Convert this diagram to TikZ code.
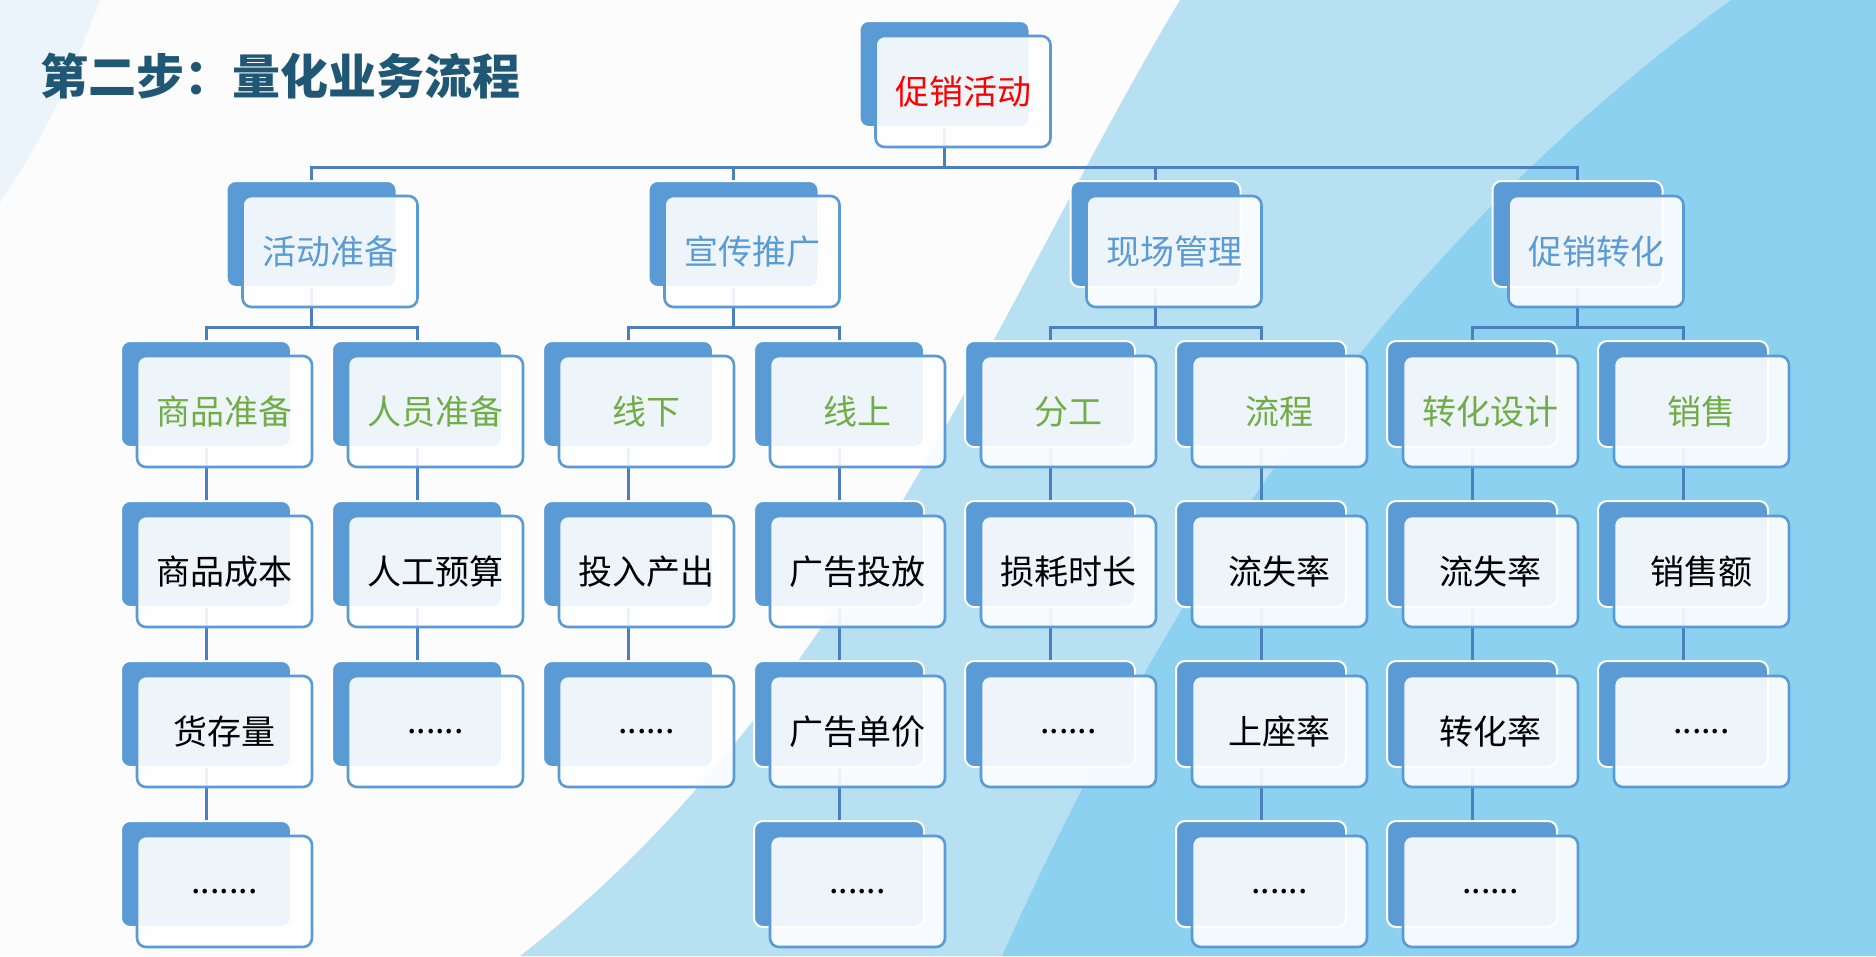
\documentclass[tikz,border=0pt]{standalone}
\usepackage{fontspec}
\newfontfamily\cjk{Noto Sans CJK SC}
\usetikzlibrary{calc}
\definecolor{bgc}{HTML}{FCFCFC}
\definecolor{palec}{HTML}{EBF4FB}
\definecolor{lightb}{HTML}{B7E0F3}
\definecolor{darkb}{HTML}{8DD1F0}
\definecolor{boxblue}{HTML}{5B9BD5}
\definecolor{connc}{HTML}{4A80BD}
\definecolor{titlec}{HTML}{1F5775}
\definecolor{greenc}{HTML}{70AD47}
\definecolor{redc}{HTML}{FF0000}
\pgfdeclarelayer{bglayer}
\pgfdeclarelayer{connlayer}
\pgfsetlayers{bglayer,connlayer,main}
\newcommand\PairBox[5]{%
  \node[backbox] (#1b) at (#2,{21+160*#3+53}) {};
  \node[frontbox,#4] (#1) at ({#2+18.5},{21+160*#3+70.5}) {#5};}
\begin{document}
\begin{tikzpicture}[x=1bp,y=-1bp,
  backbox/.style={rectangle,rounded corners=9bp,fill=boxblue,draw=white,line width=2bp,
    minimum width=170bp,minimum height=106bp,inner sep=0pt},
  frontbox/.style={rectangle,rounded corners=9bp,fill=white,fill opacity=0.9,text opacity=1,
    draw=boxblue,draw opacity=1,line width=2.6bp,minimum width=175bp,minimum height=111bp,
    inner sep=0pt,font=\cjk\fontsize{34bp}{40bp}\selectfont},
  lvred/.style={text=redc},
  lvblue/.style={text=boxblue},
  lvgreen/.style={text=greenc},
  lvblack/.style={text=black},
  conn/.style={draw=connc,line width=3bp}]
\useasboundingbox (0,0) rectangle (1876,956);
\begin{pgfonlayer}{bglayer}
\fill[bgc] (0,0) rectangle (1876,956);
\fill[palec] plot[smooth] coordinates {(100,0) (67,83) (33,150) (0,203)} -- (0,0) -- cycle;
\fill[lightb] (1180,0) .. controls (1000,300) and (850,700) .. (520,956) -- (1876,956) -- (1876,0) -- cycle;
\fill[darkb] (1731,0) .. controls (1400,240) and (1180,560) .. (1002,956) -- (1876,956) -- (1876,0) -- cycle;
\end{pgfonlayer}

\node[anchor=west,inner sep=0pt,text=titlec,font=\cjk\bfseries\fontsize{48bp}{56bp}\selectfont] (title) at (40,76) {第二步：量化业务流程};

% level 0
\PairBox{root}{944.5}{0}{lvred}{促销活动}
% level 1
\PairBox{A}{311.5}{1}{lvblue}{活动准备}
\PairBox{B}{733.5}{1}{lvblue}{宣传推广}
\PairBox{C}{1155.5}{1}{lvblue}{现场管理}
\PairBox{D}{1577.5}{1}{lvblue}{促销转化}
% level 2
\PairBox{a2}{206}{2}{lvgreen}{商品准备}
\PairBox{b2}{417}{2}{lvgreen}{人员准备}
\PairBox{c2}{628}{2}{lvgreen}{线下}
\PairBox{d2}{839}{2}{lvgreen}{线上}
\PairBox{e2}{1050}{2}{lvgreen}{分工}
\PairBox{f2}{1261}{2}{lvgreen}{流程}
\PairBox{g2}{1472}{2}{lvgreen}{转化设计}
\PairBox{h2}{1683}{2}{lvgreen}{销售}
% level 3
\PairBox{a3}{206}{3}{lvblack}{商品成本}
\PairBox{b3}{417}{3}{lvblack}{人工预算}
\PairBox{c3}{628}{3}{lvblack}{投入产出}
\PairBox{d3}{839}{3}{lvblack}{广告投放}
\PairBox{e3}{1050}{3}{lvblack}{损耗时长}
\PairBox{f3}{1261}{3}{lvblack}{流失率}
\PairBox{g3}{1472}{3}{lvblack}{流失率}
\PairBox{h3}{1683}{3}{lvblack}{销售额}
% level 4
\PairBox{a4}{206}{4}{lvblack}{货存量}
\PairBox{b4}{417}{4}{lvblack}{......}
\PairBox{c4}{628}{4}{lvblack}{......}
\PairBox{d4}{839}{4}{lvblack}{广告单价}
\PairBox{e4}{1050}{4}{lvblack}{......}
\PairBox{f4}{1261}{4}{lvblack}{上座率}
\PairBox{g4}{1472}{4}{lvblack}{转化率}
\PairBox{h4}{1683}{4}{lvblack}{......}
% level 5
\PairBox{a5}{206}{5}{lvblack}{.......}
\PairBox{d5}{839}{5}{lvblack}{......}
\PairBox{f5}{1261}{5}{lvblack}{......}
\PairBox{g5}{1472}{5}{lvblack}{......}

\begin{pgfonlayer}{connlayer}
\foreach \c in {A,B,C,D}
  \draw[conn] (rootb.south) |- ([yshift=13bp]\c b.north) -- (\c b.north);
\foreach \p/\c in {A/a2,A/b2,B/c2,B/d2,C/e2,C/f2,D/g2,D/h2}
  \draw[conn] (\p b.south) |- ([yshift=13bp]\c b.north) -- (\c b.north);
\foreach \p/\c in {a2/a3,b2/b3,c2/c3,d2/d3,e2/e3,f2/f3,g2/g3,h2/h3,
                   a3/a4,b3/b4,c3/c4,d3/d4,e3/e4,f3/f4,g3/g4,h3/h4,
                   a4/a5,d4/d5,f4/f5,g4/g5}
  \draw[conn] (\p b.south) -- (\c b.north);
\end{pgfonlayer}
\end{tikzpicture}
\end{document}
